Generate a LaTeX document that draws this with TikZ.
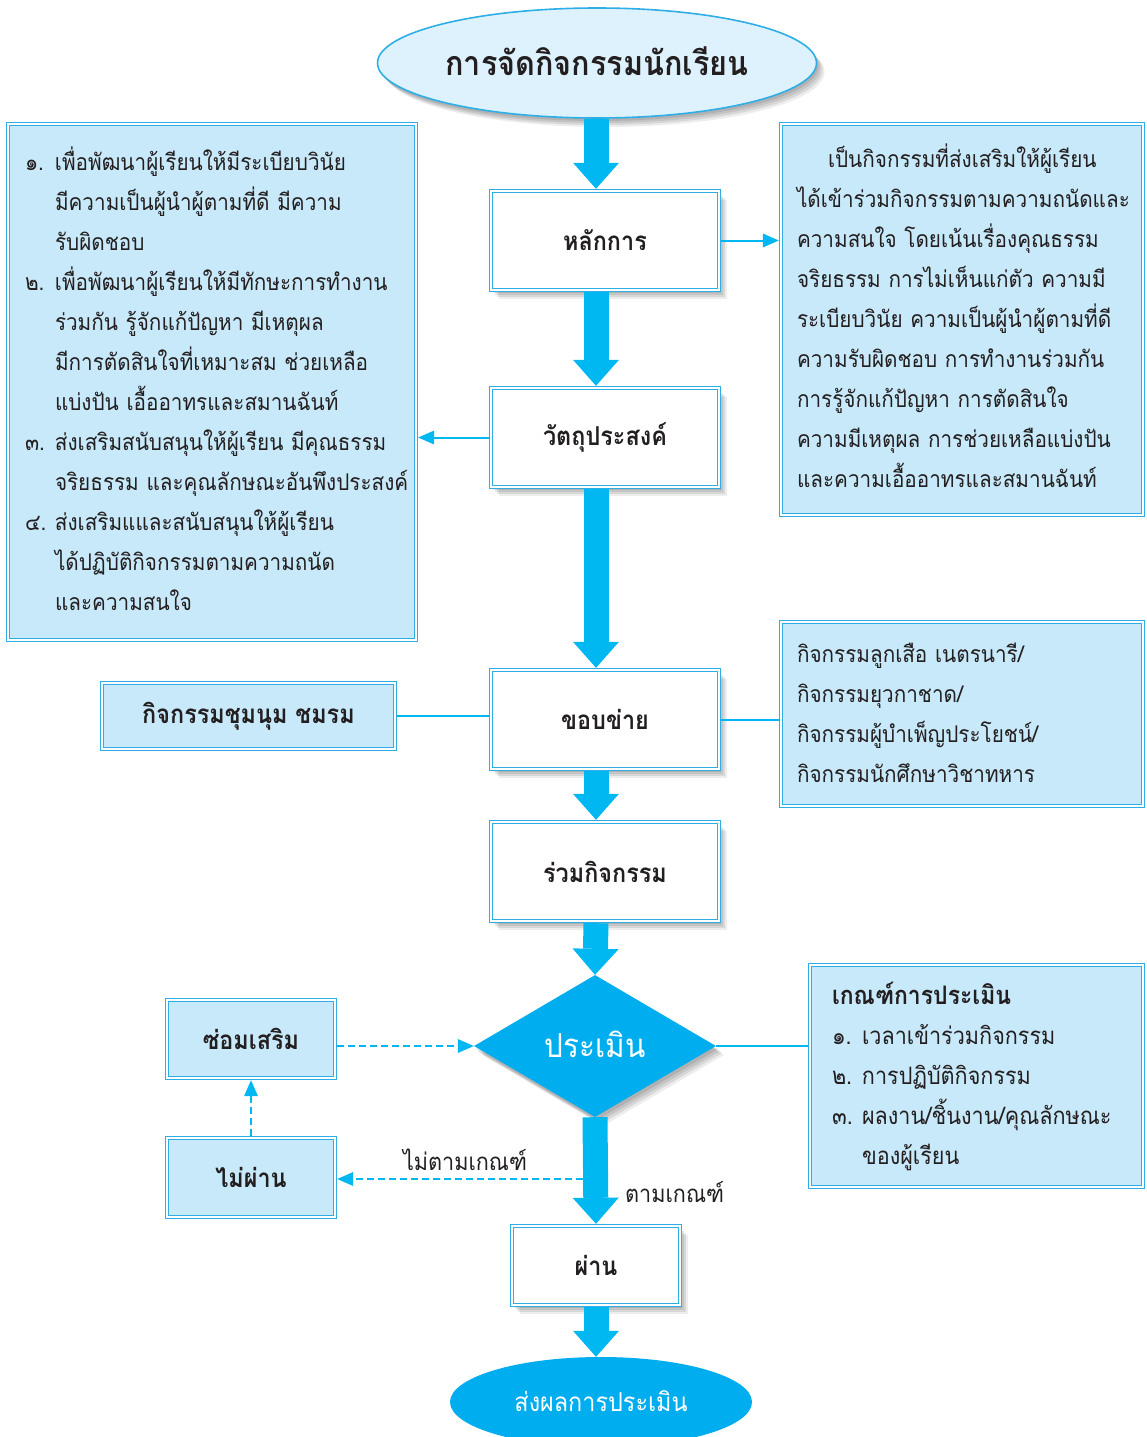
\documentclass[tikz,border=0pt]{standalone}
\usepackage{fontspec}
\setmainfont[Script=Thai,FakeStretch=0.9]{Loma}
\usetikzlibrary{arrows.meta,shapes.geometric,shadows}
\definecolor{cy}{HTML}{00B8F1}
\definecolor{dk}{HTML}{00ADEE}
\definecolor{bd}{HTML}{2FAEE6}
\definecolor{lb}{HTML}{C8E9F9}
\definecolor{tl}{HTML}{DDF2FC}
\definecolor{tx}{HTML}{231F20}
\tikzset{
  shad/.style={
    drop shadow={shadow xshift=2pt,shadow yshift=-3pt,fill=black,opacity=0.09},
    drop shadow={shadow xshift=4pt,shadow yshift=-5pt,fill=black,opacity=0.09},
    drop shadow={shadow xshift=6pt,shadow yshift=-7pt,fill=black,opacity=0.09},
    drop shadow={shadow xshift=8pt,shadow yshift=-9pt,fill=black,opacity=0.07}},
  dbl/.style={draw=bd,line width=4.4pt,postaction={draw=white,fill=none,line width=1.4pt}},
  wbox/.style={dbl,fill=white,
    minimum width=228pt,minimum height=99pt,text=tx,
    font=\fontsize{26}{30}\selectfont\bfseries,shad},
  sbox/.style={dbl,fill=lb,text=tx,font=\fontsize{26}{30}\selectfont\bfseries},
  tbox/.style={dbl,fill=lb,text=tx,align=left},
  lbl/.style={text=tx,font=\fontsize{24}{30}\selectfont,inner sep=0pt},
  big/.style={draw=cy,line width=25pt,-{Triangle[width=46pt,length=26pt,line width=0pt]}},
  thinc/.style={draw=cy,line width=2pt},
  tip/.style={-{Triangle[width=14pt,length=16pt,line width=0pt]}},
  dsh/.style={draw=cy,line width=2.6pt,dash pattern=on 7pt off 4pt,
    -{Triangle[width=14pt,length=16pt,line width=0pt]}}
}
\newcommand{\nm}[1]{\makebox[30pt][l]{#1}}
\newcommand{\ind}{\hspace*{30pt}}
\begin{document}
\begin{tikzpicture}[x=1pt,y=-1pt]
\useasboundingbox[fill=white] (0,0) rectangle (1147,1437);
% title
\node[ellipse,draw=bd,line width=1.6pt,fill=tl,minimum width=439pt,minimum height=110pt,
  text=tx,font=\fontsize{34}{40}\selectfont\bfseries,shad] (t) at (597,63) {\raisebox{3pt}{การจัดกิจกรรมนักเรียน}};
% main boxes
\node[wbox] (hl) at (605,240.5) {หลักการ};
\node[wbox] (vt) at (605,437.5) {วัตถุประสงค์};
\node[wbox] (kb) at (605,719.5) {ขอบข่าย};
\node[wbox] (rk) at (605,871.5) {ร่วมกิจกรรม};
\node[diamond,fill=dk,minimum width=242pt,minimum height=142pt,aspect=1.7,inner sep=0pt,
  text=white,font=\fontsize{33}{36}\selectfont,shad] (pm) at (595,1046) {\raisebox{4pt}{ประเมิน}};
\node[wbox,minimum width=168pt,minimum height=79pt] (ph) at (596,1265.5) {ผ่าน};
\node[ellipse,fill=dk,minimum width=302pt,minimum height=90pt,text=white,
  font=\fontsize{26}{30}\selectfont] (res) at (601,1402) {\raisebox{2pt}{ส่งผลการประเมิน}};
% side boxes
\node[sbox,minimum width=168pt,minimum height=78pt] (sm) at (251,1039) {ซ่อมเสริม};
\node[sbox,minimum width=168pt,minimum height=79pt] (mp) at (251,1177.5) {ไม่ผ่าน};
\node[sbox,minimum width=293pt,minimum height=66pt] (club) at (248.5,716) {กิจกรรมชุมนุม~ชมรม};
\node[tbox,font=\fontsize{23}{40}\selectfont,minimum width=408pt,minimum height=516pt,text width=374pt,inner xsep=17pt] (obj) at (212,382) {%
\strut\nm{๑.}เพื่อพัฒนาผู้เรียนให้มีระเบียบวินัย\\
\ind มีความเป็นผู้นำผู้ตามที่ดี~มีความ\\
\ind รับผิดชอบ\\
\nm{๒.}เพื่อพัฒนาผู้เรียนให้มีทักษะการทำงาน\\
\ind ร่วมกัน~รู้จักแก้ปัญหา~มีเหตุผล\\
\ind มีการตัดสินใจที่เหมาะสม~ช่วยเหลือ\\
\ind แบ่งปัน~เอื้ออาทรและสมานฉันท์\\
\nm{๓.}ส่งเสริมสนับสนุนให้ผู้เรียน~มีคุณธรรม\\
\ind จริยธรรม~และคุณลักษณะอันพึงประสงค์\\
\nm{๔.}ส่งเสริมแและสนับสนุนให้ผู้เรียน\\
\ind ได้ปฏิบัติกิจกรรมตามความถนัด\\
\ind และความสนใจ\strut};
\node[tbox,font=\fontsize{23}{40}\selectfont,minimum width=362pt,minimum height=391pt,text width=330pt,inner xsep=16pt] (pr) at (962,319.5) {%
\strut\hspace*{31pt}เป็นกิจกรรมที่ส่งเสริมให้ผู้เรียน\\
ได้เข้าร่วมกิจกรรมตามความถนัดและ\\
ความสนใจ~โดยเน้นเรื่องคุณธรรม\\
จริยธรรม~การไม่เห็นแก่ตัว~ความมี\\
ระเบียบวินัย~ความเป็นผู้นำผู้ตามที่ดี\\
ความรับผิดชอบ~การทำงานร่วมกัน\\
การรู้จักแก้ปัญหา~การตัดสินใจ\\
ความมีเหตุผล~การช่วยเหลือแบ่งปัน\\
และความเอื้ออาทรและสมานฉันท์\strut};
\node[tbox,font=\fontsize{23}{40}\selectfont,minimum width=362pt,minimum height=184pt,text width=330pt,inner xsep=16pt] (sc) at (962,714) {%
\strut กิจกรรมลูกเสือ~เนตรนารี/\\
กิจกรรมยุวกาชาด/\\
กิจกรรมผู้บำเพ็ญประโยชน์/\\
กิจกรรมนักศึกษาวิชาทหาร\strut};
\node[tbox,font=\fontsize{24}{40}\selectfont,minimum width=333pt,minimum height=222pt,text width=289pt,inner xsep=22pt] (cr) at (976.5,1076) {%
\strut{\fontsize{25.5}{40}\selectfont\bfseries เกณฑ์การประเมิน}\\
\nm{๑.}เวลาเข้าร่วมกิจกรรม\\
\nm{๒.}การปฏิบัติกิจกรรม\\
\nm{๓.}ผลงาน/ชิ้นงาน/คุณลักษณะ\\
\ind ของผู้เรียน\strut};
% thick arrows
\coordinate (ax) at (596,0);
\draw[big] (ax |- t.south) -- (ax |- hl.north);
\draw[big] (ax |- hl.south) -- (ax |- vt.north);
\draw[big] (ax |- vt.south) -- (ax |- kb.north);
\draw[big] (ax |- kb.south) -- (ax |- rk.north);
\draw[big] (ax |- rk.south) -- (pm.north);
\draw[big] (pm.south) -- (ph.north);
\draw[big] (ph.south) -- (ax |- res.north);
% thin connectors
\draw[thinc,tip] (hl.east) -- (hl.east -| pr.west);
\draw[thinc,tip] (vt.west) -- (vt.west -| obj.east);
\draw[thinc] (club.east) -- (club.east -| kb.west);
\draw[thinc] (kb.east) -- (kb.east -| sc.west);
\draw[thinc] (pm.east) -- (pm.east -| cr.west);
% dashed
\coordinate (sp) at (583,1179);
\draw[dsh] (sp) -- (sp -| mp.east);
\draw[dsh] (mp.north) -- (sm.south);
\draw[dsh] (pm.west -| sm.east) -- (pm.west);
% labels
\node[lbl] (l1) at (465,1160) {ไม่ตามเกณฑ์};
\node[lbl,anchor=west] (l2) at (625,1192) {ตามเกณฑ์};
\end{tikzpicture}
\end{document}
